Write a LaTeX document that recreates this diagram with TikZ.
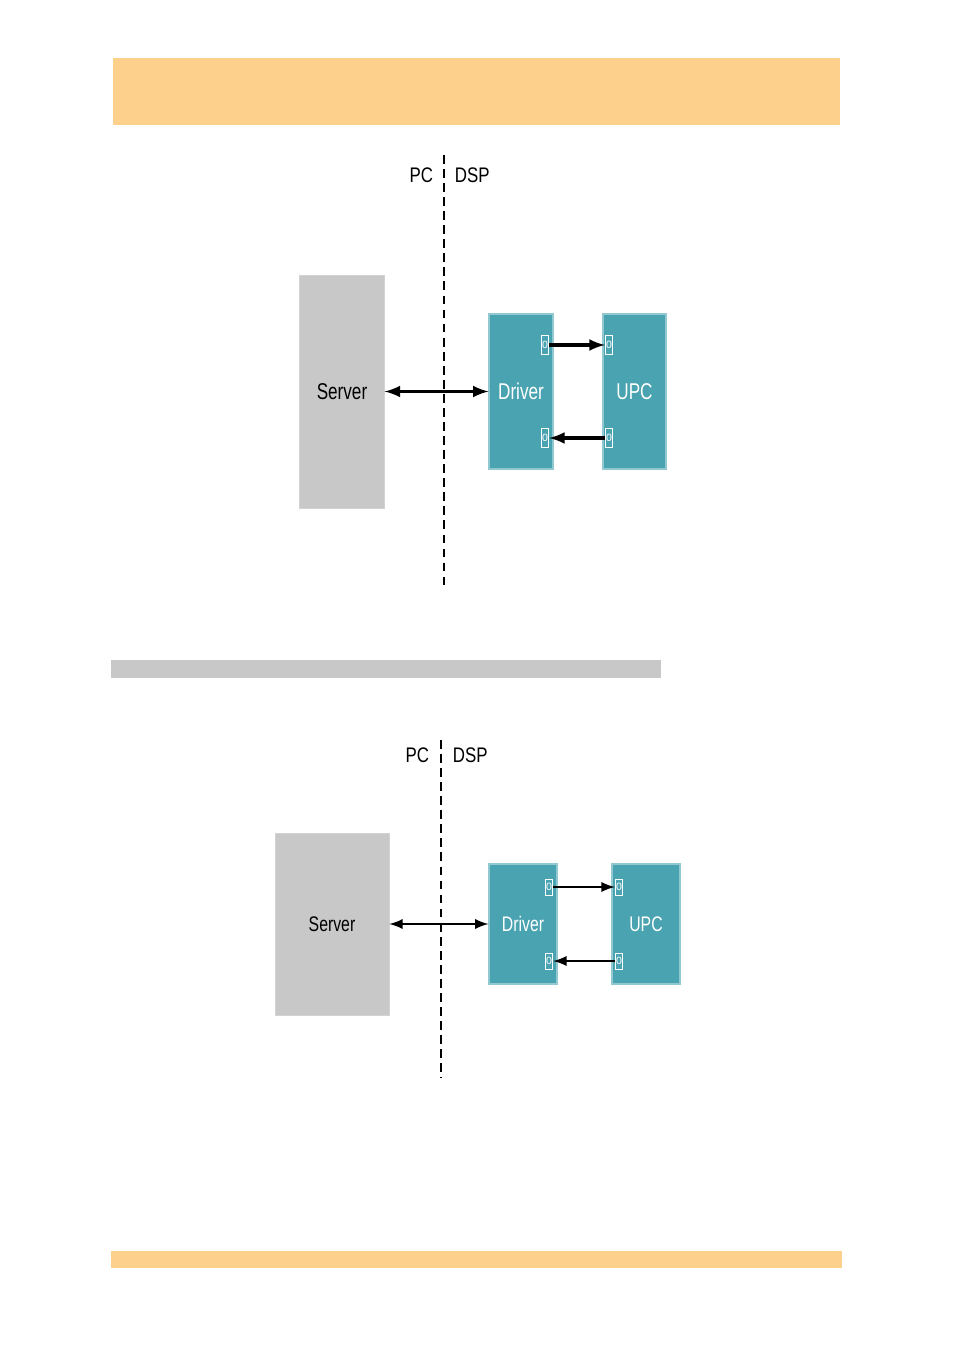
\documentclass[tikz,border=0pt]{standalone}
\usepackage{fontspec}
\setmainfont{Liberation Sans}
\usetikzlibrary{positioning}
\definecolor{bandorange}{HTML}{FDD08C}
\definecolor{boxgray}{HTML}{C8C8C8}
\definecolor{blockteal}{HTML}{4AA3B0}
\tikzset{
  block/.style={fill=blockteal, draw=blockteal!60!white, line width=0.6pt, inner sep=0pt, text=white, font=\fontsize{13}{13}\selectfont},
  serverbox/.style={fill=boxgray, draw=boxgray!80!white, inner sep=0pt, font=\fontsize{13}{13}\selectfont},
  port/.style={draw=white, line width=0.5pt, minimum width=0.15cm, minimum height=0.38cm, inner sep=0pt, text=white, font=\fontsize{6}{6}\selectfont},
  sidelabel/.style={font=\fontsize{12}{12}\selectfont, xscale=0.8},
  link/.style={line width=2pt, -latex},
  divider/.style={dashed, line width=1.2pt, dash pattern=on 5pt off 3pt}
}
\begin{document}
\begin{tikzpicture}[x=0.02cm, y=-0.02cm]
  \useasboundingbox (0,0) rectangle (954,1351);
  % bands
  \fill [bandorange] (113,58) rectangle (840,125);
  \fill [boxgray] (111,660) rectangle (661,678);
  \fill [bandorange] (111,1251) rectangle (842,1268);

  % top diagram
  \coordinate (tl) at (444,155);
  \coordinate (tb) at (444,590);
  \draw [divider] (tl) -- (tb);
  \node [sidelabel, anchor=east] (pc1) at (438,175) {PC};
  \node [sidelabel, anchor=west] (dsp1) at (450,175) {DSP};
  \node [serverbox, minimum width=2.12cm, minimum height=4.66cm, xscale=0.8] (server1) at (342,391.5) {};
  \node [xscale=0.75, font=\fontsize{13}{13}\selectfont] at (server1) {Server};
  \node [block, minimum width=1.28cm, minimum height=3.1cm] (driver1) at (521,391.5) {};
  \node [text=white, xscale=0.75, font=\fontsize{13}{13}\selectfont] at (driver1) {Driver};
  \node [block, minimum width=1.26cm, minimum height=3.1cm] (upc1) at (634.5,391.5) {};
  \node [text=white, xscale=0.75, font=\fontsize{13}{13}\selectfont] at (upc1) {UPC};
  \node [port] (dout1) at (545,345) {0};
  \node [port] (din1) at (545,438) {0};
  \node [port] (uin1) at (609,345) {0};
  \node [port] (uout1) at (609,438) {0};
  \draw [link] (dout1) -- (uin1);
  \draw [link] (uout1) -- (din1);
  \draw [link, latex-latex] (server1.east) -- (driver1.west);

  % bottom diagram
  \coordinate (bl) at (441,740);
  \coordinate (bb) at (441,1078);
  \draw [divider] (bl) -- (bb);
  \node [sidelabel, anchor=east] (pc2) at (434,755) {PC};
  \node [sidelabel, anchor=west] (dsp2) at (448,755) {DSP};
  \node [serverbox, minimum width=2.28cm, minimum height=3.64cm] (server2) at (332,924) {};
  \node [xscale=0.75, font=\fontsize{12}{12}\selectfont] at (server2) {Server};
  \node [block, minimum width=1.36cm, minimum height=2.4cm] (driver2) at (523,924) {};
  \node [text=white, xscale=0.75, font=\fontsize{12}{12}\selectfont] at (driver2) {Driver};
  \node [block, minimum width=1.36cm, minimum height=2.4cm] (upc2) at (646,924) {};
  \node [text=white, xscale=0.75, font=\fontsize{12}{12}\selectfont] at (upc2) {UPC};
  \node [port, minimum height=0.32cm] (dout2) at (549,887) {0};
  \node [port, minimum height=0.32cm] (din2) at (549,961) {0};
  \node [port, minimum height=0.32cm] (uin2) at (619,887) {0};
  \node [port, minimum height=0.32cm] (uout2) at (619,961) {0};
  \draw [link, line width=1.6pt] (dout2) -- (uin2);
  \draw [link, line width=1.6pt] (uout2) -- (din2);
  \draw [link, line width=1.6pt, latex-latex] (server2.east) -- (driver2.west);
\end{tikzpicture}
\end{document}
